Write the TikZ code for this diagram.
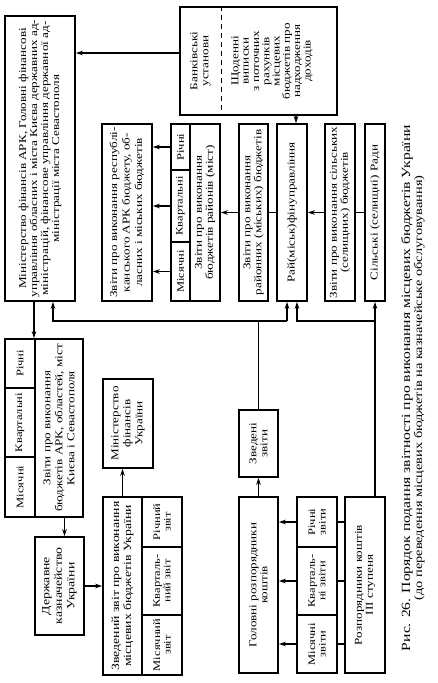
\documentclass[tikz,border=0pt]{standalone}
\usepackage{fontspec}
\setmainfont{Liberation Serif}[FakeStretch=1.25]
\usetikzlibrary{arrows.meta}

\tikzset{
  box/.style={draw, line width=1.5pt, rotate=90, align=center, inner sep=1pt,
    font=\fontsize{10.5}{11}\selectfont},
  cell/.style={box, font=\fontsize{10}{10.5}\selectfont},
  arr/.style={line width=1.4pt, -{Stealth[length=7pt,width=4.5pt]}},
  lnk/.style={line width=1.4pt}
}

\begin{document}
\begin{tikzpicture}[x=1pt,y=-1pt]
    \useasboundingbox (0,0) rectangle (438,683);
    % upper row
    \node[box, minimum width=285, minimum height=70] (minfin) at (40,158.5)
      {Міністерство фінансів АРК, Головні фінансові\\управління обласних і міста Києва державних ад-\\міністрацій, фінансове управління державної ад-\\міністрації міста Севастополя};
    \node[box, minimum width=108, minimum height=157] (bank) at (258.5,61) {};
    \node[box, draw=none, minimum width=108, minimum height=41] (bankA) at (200.5,61)
      {Банківські\\установи};
    \node[box, draw=none, font=\fontsize{10.5}{10.3}\selectfont] (bankB) at (272,61)
      {Щоденні\\виписки\\з поточних\\рахунків\\місцевих\\бюджетів про\\надходження\\доходів};
    \draw[lnk, dash pattern=on 5pt off 4pt] (bank.east -| bankA.south) -- (bank.west -| bankA.south);

    \node[box, minimum width=177, minimum height=50, font=\fontsize{10.5}{12.5}\selectfont] (box1) at (127,212.5)
      {Звіти про виконання республі-\\канського АРК бюджету, об-\\ласних і міських бюджетів};
    \node[cell, minimum width=46, minimum height=19] (c2r) at (180.5,147) {Річні};
    \node[cell, minimum width=72, minimum height=19] (c2k) at (180.5,206) {Квартальні};
    \node[cell, minimum width=59, minimum height=19] (c2m) at (180.5,271.5) {Місячні};
    \node[box, minimum width=177, minimum height=30] (c2) at (205,212.5)
      {Звіти про виконання\\бюджетів районів (міст)};
    \node[box, minimum width=177, minimum height=29] (rayon) at (253.5,212.5)
      {Звіти про виконання\\районних (міських) бюджетів};
    \node[box, minimum width=177, minimum height=30] (rayfin) at (292,212.5)
      {Рай(міськ)фінуправління};
    \node[box, minimum width=177, minimum height=30] (silzvit) at (340,212.5)
      {Звіти про виконання сільських\\(селищних) бюджетів};
    \node[box, minimum width=177, minimum height=20] (silrady) at (375,212.5)
      {Сільські (селищні) Ради};

    % lower row
    \node[cell, minimum width=49, minimum height=30] (c3r) at (20,363.5) {Річні};
    \node[cell, minimum width=69, minimum height=30] (c3k) at (20,422.5) {Квартальні};
    \node[cell, minimum width=60, minimum height=30] (c3m) at (20,487) {Місячні};
    \node[box, minimum width=178, minimum height=48, font=\fontsize{10.5}{12}\selectfont] (c3) at (59,428)
      {Звіти про виконання\\бюджетів АРК, областей, міст\\Києва і Севастополя};
    \node[box, minimum width=89, minimum height=50, font=\fontsize{10.5}{12}\selectfont] (minfinua) at (128,423.5)
      {Міністерство\\фінансів\\України};
    \node[box, minimum width=98, minimum height=49, font=\fontsize{11}{12.5}\selectfont] (kazna) at (59.5,586)
      {Державне\\казначейство\\України};
    \node[box, minimum width=178, minimum height=39, font=\fontsize{11}{12}\selectfont] (svod) at (122.5,586)
      {Зведений звіт про виконання\\місцевих бюджетів України};
    \node[cell, minimum width=50, minimum height=40] (svr) at (162,522) {Річний\\звіт};
    \node[cell, minimum width=68, minimum height=40] (svk) at (162,581) {Квар\-таль-\\ний звіт};
    \node[cell, minimum width=60, minimum height=40] (svm) at (162,645) {Місячний\\звіт};
    \node[box, minimum width=67, minimum height=39] (zvedeni) at (258.5,443.5)
      {Зведені\\звіти};
    \node[box, minimum width=176, minimum height=39] (golovni) at (258.5,585)
      {Головні розпорядники\\коштів};
    \node[cell, minimum width=50, minimum height=40] (c4r) at (317,522) {Річні\\звіти};
    \node[cell, minimum width=68, minimum height=40] (c4k) at (317,581) {Квар\-таль-\\ні звіти};
    \node[cell, minimum width=58, minimum height=40] (c4m) at (317,644) {Місячні\\звіти};
    \node[box, minimum width=176, minimum height=40] (rozp3) at (365,585)
      {Розпорядники коштів\\III ступеня};

    \node[rotate=90, align=center, font=\fontsize{12.5}{12}\selectfont] (caption) at (413,388)
      {Рис. 26. Порядок подання звітності про виконання місцевих бюджетів України\\
       {\fontsize{11.5}{12}\selectfont(до переведення місцевих бюджетів на казначейське обслуговування)}};

    \coordinate (busA) at (0,321);

    % connectors
    \draw[arr] ([yshift=8pt]bank.north) coordinate (b1) -- (b1 -| minfin.south);
    \draw[arr] ([xshift=4pt]rayfin.east |- bank.west) -- ([xshift=4pt]rayfin.east);
    \draw[lnk] (silrady) -- (silzvit);
    \draw[arr] (silzvit) -- (rayfin);
    \draw[lnk] (rayfin) -- (rayon);
    \draw[arr] (rayon) -- (c2);
    \draw[arr] (c2r) -- (c2r -| box1.south);
    \draw[arr] (c2k) -- (c2k -| box1.south);
    \draw[arr] (c2m) -- (c2m -| box1.south);
    \draw[lnk] (zvedeni.east) -- (zvedeni.east |- busA);
    \draw[arr] ([xshift=-5pt]rayfin.west |- busA) -| ([xshift=13pt]minfin.west);
    \draw[arr] ([xshift=-5pt]rayfin.west |- busA) -- ([xshift=-5pt]rayfin.west);
    \draw[arr] (silrady.west |- rozp3.east) -- (silrady.west);
    \draw[arr] (silrady.west |- busA) -| ([xshift=5pt]rayfin.west);
    \draw[arr] ([xshift=-6pt]minfin.west) -- ([xshift=-6pt]minfin.west |- c3.east);
    \draw[arr] ([xshift=5pt]kazna.east |- c3.west) -- ([xshift=5pt]kazna.east);
    \draw[arr] (kazna) -- (svod);
    \draw[arr] (svod.east) -- (svod.east |- minfinua.west);
    \draw[arr] (golovni) -- (zvedeni);
    \draw[arr] (c4r) -- (c4r -| golovni.south);
    \draw[arr] (c4k) -- (c4k -| golovni.south);
    \draw[arr] (c4m) -- (c4m -| golovni.south);
    \draw[lnk] (rozp3.north |- c4r) -- (c4r);
    \draw[lnk] (rozp3.north |- c4k) -- (c4k);
    \draw[lnk] (rozp3.north |- c4m) -- (c4m);
\end{tikzpicture}
\end{document}
